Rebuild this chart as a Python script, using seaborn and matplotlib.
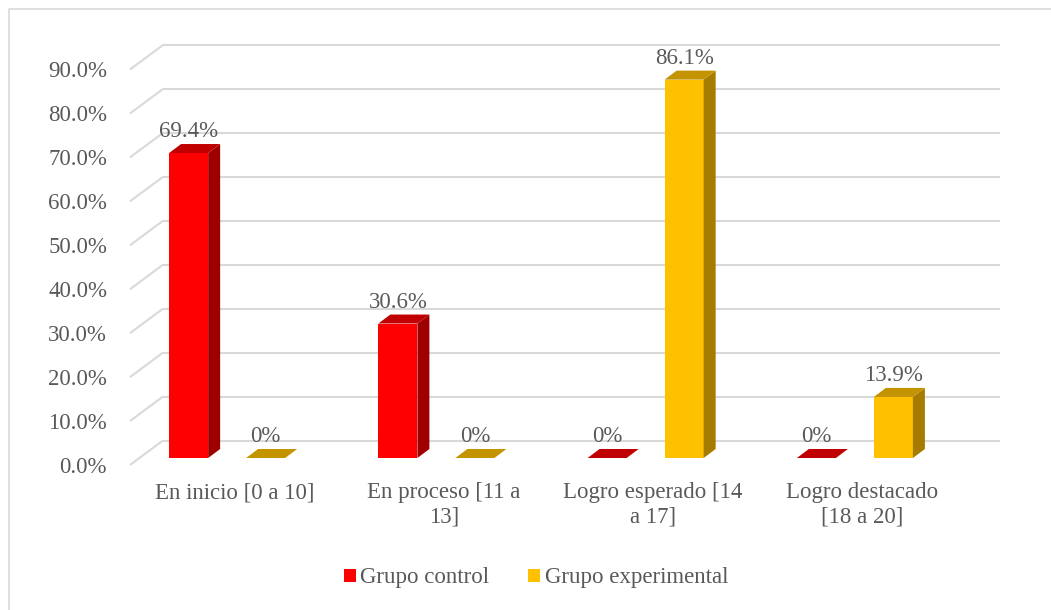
"""
3D-style grouped column chart: Grupo control vs Grupo experimental
por nivel de logro.
"""

import matplotlib.pyplot as plt
import pandas as pd
import seaborn as sns
from matplotlib.lines import Line2D
from matplotlib.patches import Patch, Polygon
from matplotlib.transforms import ScaledTranslation

categorias = [
    "En inicio [0 a 10]",
    "En proceso [11 a\n13]",
    "Logro esperado [14\na 17]",
    "Logro destacado\n[18 a 20]",
]
grupos = ["Grupo control", "Grupo experimental"]
control = [69.4, 30.6, 0.0, 0.0]
experimental = [0.0, 0.0, 86.1, 13.9]
y_ticks = [0, 10, 20, 30, 40, 50, 60, 70, 80, 90]

# front / side / top colours for each series
caras = {
    "Grupo control": ("#FF0000", "#9E0000", "#C00000"),
    "Grupo experimental": ("#FFC000", "#A67C00", "#C49300"),
}
TEXT = "#595959"
GRID = "#D9D9D9"
FS = 16.5

W, H, DPI = 1051, 610, 100


def px_to_data(ax, dx, dy):
    """Convert a pixel offset into data units for the (linear) axes."""
    x0, x1 = ax.get_xlim()
    y0, y1 = ax.get_ylim()
    bb = ax.get_position()
    return dx * (x1 - x0) / (bb.width * W), dy * (y1 - y0) / (bb.height * H)


def main():
    sns.set_theme(style="white")
    plt.rcParams["font.family"] = ["Liberation Serif", "DejaVu Serif"]

    df = pd.DataFrame(
        {
            "categoria": categorias * 2,
            "grupo": [grupos[0]] * 4 + [grupos[1]] * 4,
            "valor": control + experimental,
        }
    )

    fig = plt.figure(figsize=(W / DPI, H / DPI), dpi=DPI)
    # front plane of the 3D box
    left, right, bottom, top = 130, 967, 465, 69.5
    ax = fig.add_axes(
        [left / W, 1 - bottom / H, (right - left) / W, (bottom - top) / H]
    )

    sns.barplot(
        data=df,
        x="categoria",
        y="valor",
        hue="grupo",
        hue_order=grupos,
        palette={g: caras[g][0] for g in grupos},
        width=0.736,
        gap=0.493,
        saturation=1,
        linewidth=0,
        legend=False,
        ax=ax,
    )
    ax.set_xlim(-0.5, 3.5)
    ax.set_ylim(0, 90)
    for s in ax.spines.values():
        s.set_visible(False)
    ax.set_xlabel("")
    ax.set_ylabel("")
    ax.set_yticks(y_ticks)
    ax.set_yticklabels([f"{v:.1f}%" for v in y_ticks])
    ax.tick_params(axis="y", length=0, pad=16.5, labelsize=FS, labelcolor=TEXT)
    ax.tick_params(axis="x", length=0, pad=12.5, labelsize=FS, labelcolor=TEXT)
    for lab in ax.get_xticklabels():
        lab.set_linespacing(1.2)

    # gridlines: diagonal on the floor-side plus back wall
    bdx, bdy = px_to_data(ax, 33, 24.5)
    x0, x1 = ax.get_xlim()
    for v in y_ticks:
        ax.plot([x0, x0 + bdx], [v, v + bdy], color=GRID, lw=1.5,
                clip_on=False, zorder=0.5, solid_capstyle="butt")
        ax.plot([x0 + bdx, x1 + bdx], [v + bdy, v + bdy], color=GRID, lw=1.5,
                clip_on=False, zorder=0.5, solid_capstyle="butt")

    # bars sit a little behind the front plane
    bar_off = ax.transData + ScaledTranslation(-7.5 / DPI, 7 / DPI,
                                               fig.dpi_scale_trans)
    ddx, ddy = px_to_data(ax, 12, 9)
    _, lab_dy = px_to_data(ax, 0, 7)

    for i, patch in enumerate(list(ax.patches)):
        grupo = grupos[i // 4]
        valor = (control + experimental)[i]
        front, side, topc = caras[grupo]
        patch.set_transform(bar_off)
        patch.set_clip_on(False)
        patch.set_zorder(2)
        x, w = patch.get_x(), patch.get_width()
        y1 = patch.get_height()
        lado = Polygon(
            [(x + w, 0), (x + w + ddx, ddy), (x + w + ddx, y1 + ddy), (x + w, y1)],
            closed=True, facecolor=side, edgecolor="none",
            transform=bar_off, clip_on=False, zorder=2,
        )
        tapa = Polygon(
            [(x, y1), (x + w, y1), (x + w + ddx, y1 + ddy), (x + ddx, y1 + ddy)],
            closed=True, facecolor=topc, edgecolor="none",
            transform=bar_off, clip_on=False, zorder=2,
        )
        ax.add_patch(lado)
        ax.add_patch(tapa)
        texto = f"{valor:.1f}%" if valor > 0 else "0%"
        ax.text(x + w / 2, y1 + ddy + lab_dy, texto, transform=bar_off,
                ha="center", va="baseline", fontsize=FS, color=TEXT,
                zorder=3)

    handles = [Patch(facecolor=caras[g][0], edgecolor="none") for g in grupos]
    fig.legend(
        handles, grupos, loc="center", bbox_to_anchor=(536 / W, 1 - 578 / H),
        ncol=2, frameon=False, fontsize=FS, labelcolor=TEXT,
        handlelength=0.52, handleheight=0.52, handletextpad=0.2,
        columnspacing=1.7, borderaxespad=0,
    )

    # chart-area border (only left and top are visible in the picture)
    fig.add_artist(Line2D([9 / W, 9 / W, 1.0], [0.0, 1 - 9 / H, 1 - 9 / H],
                          transform=fig.transFigure, color=GRID, lw=1.2))

    fig.savefig("out.png", dpi=DPI)


if __name__ == "__main__":
    main()
